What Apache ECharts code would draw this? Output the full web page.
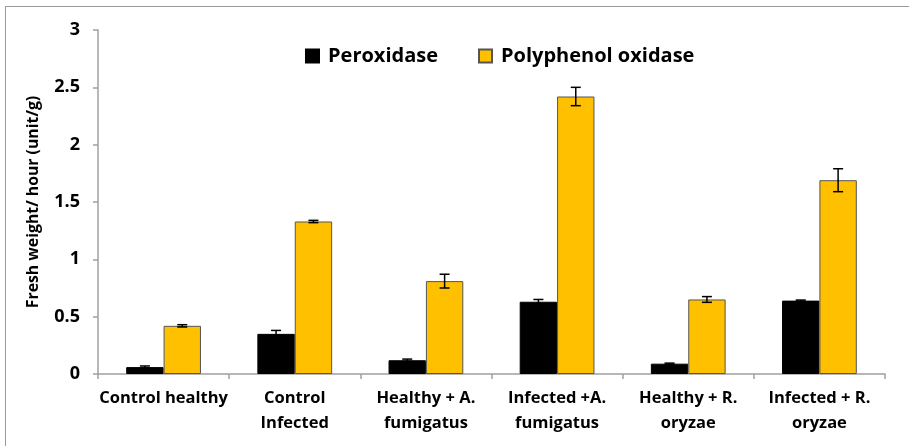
<!DOCTYPE html>
<html>
<head>
<meta charset="utf-8">
<script src="https://cdn.jsdelivr.net/npm/echarts@6/dist/echarts.min.js"></script>
<style>
  html, body { margin: 0; padding: 0; background: #fff; }
  #main { width: 909px; height: 446px; }
  .frame { position: absolute; left: 5px; top: 6px; width: 920px; height: 460px; border: 1px solid #9a9a9a; box-sizing: border-box; pointer-events: none; }
</style>
</head>
<body>
<div id="main"></div>
<div class="frame"></div>
<script>
// 数据
const categories = ['Control healthy', 'Control\nInfected', 'Healthy + A.\nfumigatus', 'Infected +A.\nfumigatus', 'Healthy + R.\noryzae', 'Infected + R.\noryzae']
const peroxidase = [0.06, 0.35, 0.12, 0.63, 0.09, 0.64]
const peroxidaseErr = [0.01, 0.03, 0.01, 0.02, 0.005, 0.005]
const ppo = [0.42, 1.33, 0.81, 2.42, 0.65, 1.69]
const ppoErr = [0.01, 0.01, 0.06, 0.08, 0.025, 0.1]

const GAP = 0.43
const font = '"Open Sans", Lato, sans-serif'

function errSeries(vals, errs, side) {
  return {
    type: 'custom',
    silent: true,
    z: 10,
    data: vals.map((v, i) => [i, v, errs[i]]),
    renderItem: (params, api) => {
      const i = api.value(0), v = api.value(1), e = api.value(2)
      const band = api.size([1, 0])[0]
      const bw = band * (1 - GAP) / 2
      const x = api.coord([i, v])[0] + side * bw / 2
      const yTop = api.coord([i, v + e])[1]
      const yBot = api.coord([i, v - e])[1]
      const cap = 5
      const style = { stroke: '#000', lineWidth: 1.5 }
      return {
        type: 'group',
        children: [
          { type: 'line', shape: { x1: x, y1: yTop, x2: x, y2: yBot }, style },
          { type: 'line', shape: { x1: x - cap, y1: yTop, x2: x + cap, y2: yTop }, style },
          { type: 'line', shape: { x1: x - cap, y1: yBot, x2: x + cap, y2: yBot }, style }
        ]
      }
    }
  }
}

const c = echarts.init(document.getElementById('main'))
c.setOption({
  animation: false,
  textStyle: { fontFamily: font },
  legend: {
    data: ['Peroxidase', 'Polyphenol oxidase'],
    icon: 'rect',
    left: 300, top: 41,
    itemWidth: 13, itemHeight: 13, itemGap: 40,
    textStyle: { fontSize: 20, fontWeight: 'bold', color: '#000', fontFamily: font, padding: [0, 0, 0, 4] }
  },
  grid: { left: 98, right: 24, top: 30, bottom: 72 },
  xAxis: {
    type: 'category',
    data: categories,
    axisLine: { lineStyle: { color: '#a0a0a0', width: 1.5 } },
    axisTick: { show: true, length: 5, interval: 0, lineStyle: { color: '#a0a0a0', width: 1.5 } },
    axisLabel: { interval: 0, margin: 12, fontSize: 16.5, fontWeight: 'bold', color: '#000', lineHeight: 25, fontFamily: font }
  },
  yAxis: {
    type: 'value',
    min: 0, max: 3, interval: 0.5,
    name: 'Fresh weight/ hour (unit/g)',
    nameLocation: 'middle',
    nameGap: 57,
    nameTextStyle: { fontSize: 15.8, fontWeight: 'bold', color: '#000', fontFamily: font },
    axisLine: { show: true, lineStyle: { color: '#a0a0a0', width: 1.5 } },
    axisTick: { show: true, length: 5, lineStyle: { color: '#a0a0a0', width: 1.5 } },
    axisLabel: { fontSize: 18, fontWeight: 'bold', color: '#000', margin: 18, fontFamily: font },
    splitLine: { show: false }
  },
  series: [
    { name: 'Peroxidase', type: 'bar', data: peroxidase, barGap: '0%', barCategoryGap: (GAP * 100) + '%',
      itemStyle: { color: '#000', borderColor: '#000', borderWidth: 1 } },
    { name: 'Polyphenol oxidase', type: 'bar', data: ppo, barGap: '0%', barCategoryGap: (GAP * 100) + '%',
      itemStyle: { color: '#FFC000', borderColor: '#555', borderWidth: 1 } },
    errSeries(peroxidase, peroxidaseErr, -1),
    errSeries(ppo, ppoErr, 1)
  ]
})
</script>
</body>
</html>
